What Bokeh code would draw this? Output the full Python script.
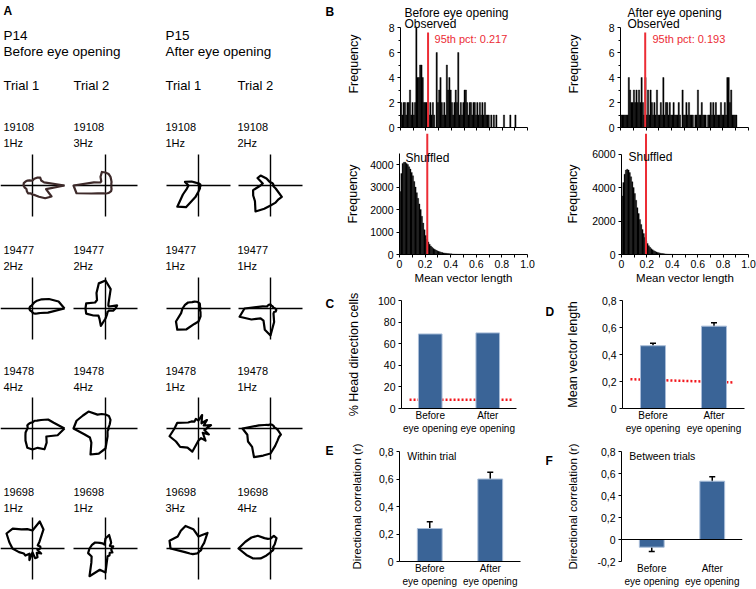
import numpy as np
from bokeh.plotting import figure
from bokeh.layouts import row, column
from bokeh.models import (Range1d, FixedTicker, CustomJSTickFormatter, Whisker,
                          ColumnDataSource, Span, TeeHead)
from bokeh.core.properties import value
from bokeh.embed import file_html
from bokeh.resources import INLINE

FONT = "Liberation Sans"
RED = "#ec2c35"
DOT_RED = "#f2161c"
BAR = "#3a6497"
BAR_EDGE = "#a9bdd8"
BROWN = "#3e2a2a"

# ---------------- data ----------------
# Panel A: polar firing-rate plots, radius (arbitrary units) every 15 deg from east, counter-clockwise
angles_deg = list(range(0, 360, 15))
polar_radii = [
    [32, 12, 10, 11, 9, 7, 5, 5, 6, 7, 8, 9, 9, 8, 7, 8, 9, 8, 9, 10, 13, 18, 22, 14],
    [6, 6, 7, 8, 10, 12, 13, 14, 10, 6, 6, 12, 32, 30, 16, 11, 9, 8, 8, 8, 8, 8, 7, 6],
    [2, 2, 2, 2, 2, 2, 2, 2, 3, 4, 8, 14, 10, 12, 18, 30, 25, 12, 6, 4, 3, 2, 2, 2],
    [3, 3, 3, 3, 3, 3, 3, 4, 8, 14, 15, 8, 10, 18, 20, 22, 30, 24, 20, 18, 16, 16, 6, 3],
    [32, 27, 19, 13, 9, 6, 4, 3, 3, 3, 3, 3, 3, 3, 3, 3, 3, 3, 4, 5, 6, 7, 9, 16],
    [10, 12, 4, 4, 6, 20, 28, 26, 18, 12, 12, 20, 20, 20, 14, 10, 12, 18, 10, 6, 4, 4, 4, 8],
    [2, 2, 2, 2, 3, 5, 6, 7, 8, 9, 12, 14, 16, 18, 26, 30, 24, 16, 13, 8, 4, 2, 2, 2],
    [5, 3, 3, 3, 3, 3, 4, 4, 4, 4, 4, 8, 26, 32, 22, 14, 14, 22, 27, 14, 6, 5, 6, 6],
    [32, 22, 18, 12, 9, 8, 6, 6, 6, 6, 6, 5, 5, 6, 8, 10, 14, 20, 21, 20, 24, 20, 16, 26],
    [3, 3, 4, 6, 10, 13, 14, 15, 16, 24, 26, 30, 32, 22, 18, 20, 30, 26, 20, 8, 4, 3, 3, 3],
    [8, 13, 6, 12, 6, 14, 8, 10, 8, 10, 12, 22, 24, 30, 26, 26, 22, 24, 12, 10, 14, 6, 12, 6],
    [6, 4, 4, 4, 4, 4, 4, 4, 4, 5, 7, 12, 28, 24, 26, 26, 33, 28, 25, 18, 14, 12, 12, 8],
    [8, 8, 6, 10, 22, 28, 18, 20, 22, 28, 30, 24, 20, 14, 10, 10, 6, 12, 4, 10, 10, 6, 10, 5],
    [6, 8, 5, 8, 10, 14, 10, 4, 6, 8, 12, 14, 16, 18, 16, 20, 32, 22, 24, 8, 8, 6, 8, 6],
    [3, 3, 4, 8, 18, 14, 12, 20, 26, 25, 24, 30, 28, 14, 10, 8, 6, 5, 4, 3, 3, 3, 3, 3],
    [3, 3, 3, 6, 12, 13, 10, 10, 12, 18, 22, 26, 32, 25, 20, 14, 8, 5, 4, 3, 3, 3, 3, 3],
]
cell_ids = ["19108", "19108", "19108", "19108",
            "19477", "19477", "19477", "19477",
            "19478", "19478", "19478", "19478",
            "19698", "19698", "19698", "19698"]
cell_freqs = ["1Hz", "3Hz", "1Hz", "2Hz",
              "2Hz", "2Hz", "1Hz", "1Hz",
              "4Hz", "4Hz", "1Hz", "1Hz",
              "1Hz", "1Hz", "3Hz", "4Hz"]
age_labels = ["P14", "P15"]
cond_labels = ["Before eye opening", "After eye opening"]
trial_labels = ["Trial 1", "Trial 2", "Trial 1", "Trial 2"]

# Panel B: histograms of mean vector length, bin width 0.01
BIN = 0.01
before_obs = [2, 1, 2, 2, 1, 2, 2, 3, 1, 2, 1, 2, 8, 4, 4, 5, 5, 4, 2, 2,
              2, 2, 1, 2, 1, 2, 1, 0, 6, 2, 3, 4, 2, 1, 2, 1, 5, 3, 4, 3,
              2, 1, 2, 3, 2, 6, 1, 2, 1, 2, 3, 3, 2, 1, 2, 2, 1, 2, 2, 1,
              2, 1, 2, 1, 2, 1, 2, 1, 1, 1, 0, 1, 0, 1, 0, 1, 0, 0, 0, 0,
              0, 1, 0, 0, 0, 0, 1, 0, 0, 0, 1]
after_obs = [1, 1, 1, 1, 1, 1, 4, 3, 2, 2, 3, 2, 3, 2, 3, 2, 4, 2, 1, 4,
             1, 3, 1, 3, 2, 1, 2, 1, 3, 1, 1, 2, 1, 4, 1, 2, 2, 1, 2, 1,
             1, 2, 1, 1, 1, 2, 1, 0, 3, 1, 1, 2, 1, 2, 1, 1, 1, 0, 1, 1,
             3, 1, 1, 2, 1, 1, 1, 0, 1, 1, 2, 1, 2, 1, 2, 1, 1, 1, 2, 1,
             1, 2, 1, 4, 4, 2, 3, 1, 1, 1, 1, 0, 0]
before_shuf = [2800, 3600, 4050, 4100, 4100, 4050, 4000, 3900, 3800, 3650,
               3500, 3250, 3000, 2750, 2500, 2250, 2000, 1700, 1400, 1100,
               850, 680, 560, 460, 380, 320, 270, 230, 195, 165,
               140, 120, 100, 85, 72, 62, 53, 45, 39, 33,
               28, 24, 20, 17, 15, 13, 11, 10, 9, 8,
               7, 6, 5, 5, 4, 4, 3, 3, 2, 2, 2]
after_shuf = [3500, 4300, 4800, 5050, 5100, 5050, 4900, 4650, 4350, 4000,
              3650, 3250, 2800, 2450, 2100, 1800, 1500, 1250, 1020, 820,
              660, 530, 430, 350, 285, 230, 190, 155, 125, 100,
              82, 67, 55, 45, 37, 30, 24, 19, 15, 12,
              10, 8, 6, 5, 4, 3, 2, 2, 1, 1, 1]
pct95 = [0.217, 0.193]
obs_titles = ["Before eye opening", "After eye opening"]

# Panels C-F
groups = ["Before\neye opening", "After\neye opening"]
hd_pct = [69, 70]
hd_chance = 8
mvl = [0.465, 0.61]
mvl_err = [0.018, 0.025]
within_r = [0.24, 0.60]
within_err = [0.05, 0.05]
between_r = [-0.07, 0.53]
between_err = [0.04, 0.04]

cat_x = [i + 0.5 for i in range(len(groups))]


# ---------------- helpers ----------------
def make_fig(w, h, mbl, mbr, mbt, mbb, xr, yr):
    p = figure(width=w, height=h, x_range=Range1d(*xr), y_range=Range1d(*yr),
               output_backend="svg", toolbar_location=None, title=None,
               min_border_left=mbl, min_border_right=mbr,
               min_border_top=mbt, min_border_bottom=mbb)
    p.grid.visible = False
    p.outline_line_color = None
    for ax in p.axis:
        ax.axis_line_color = "black"
        ax.axis_line_width = 1
        ax.major_tick_line_color = "black"
        ax.major_tick_out = 3
        ax.major_tick_in = 0
        ax.minor_tick_line_color = None
        ax.major_label_text_font = FONT
        ax.major_label_text_font_size = "10.5px"
        ax.major_label_text_color = "black"
        ax.major_label_standoff = 3
        ax.axis_label_text_font = FONT
        ax.axis_label_text_font_style = "normal"
        ax.axis_label_text_font_size = "12.5px"
        ax.axis_label_text_color = "black"
    return p


def add_text(p, x, y, txt, size, color="black", baseline="alphabetic", bold=False, align="left"):
    p.text(x=[x], y=[y], text=[txt], text_font=value(FONT), text_font_size=value(size),
           text_color=color, text_baseline=baseline, text_align=align,
           text_font_style="bold" if bold else "normal")


def centers(counts):
    return [BIN * i + BIN / 2 for i in range(len(counts))]


def letter_fig(h, letter, top):
    p = figure(width=12, height=h, x_range=Range1d(0, 12), y_range=Range1d(h, 0),
               output_backend="svg", toolbar_location=None, title=None, min_border=0)
    p.axis.visible = False
    p.grid.visible = False
    p.outline_line_color = None
    add_text(p, 0, top, letter, "12px", baseline="top", bold=True)
    return p


def cat_xaxis(p):
    xa = p.xaxis[0]
    xa.ticker = FixedTicker(ticks=cat_x)
    xa.major_label_overrides = {cat_x[0]: groups[0], cat_x[1]: groups[1]}
    xa.major_label_text_font_size = "10px"
    xa.major_tick_out = 0
    xa.major_label_standoff = 1
    return xa


def add_err(p, vals, errs):
    src = ColumnDataSource(dict(x=cat_x,
                                upper=[v + e for v, e in zip(vals, errs)],
                                lower=[v - e for v, e in zip(vals, errs)]))
    p.add_layout(Whisker(base="x", upper="upper", lower="lower", source=src,
                         line_color="black", line_width=1.5,
                         upper_head=TeeHead(size=6, line_width=1.5, line_color="black"),
                         lower_head=TeeHead(size=6, line_width=1.5, line_color="black")))


# ---------------- Panel A ----------------
pA = figure(width=343, height=589, x_range=Range1d(0, 343), y_range=Range1d(589, 0),
            output_backend="svg", toolbar_location=None, title=None, min_border=0)
pA.axis.visible = False
pA.grid.visible = False
pA.outline_line_color = None

add_text(pA, 3, 3, "A", "12px", baseline="top", bold=True)
add_text(pA, 325, 4, "B", "12px", baseline="top", bold=True)
add_text(pA, 325, 296, "C", "12px", baseline="top", bold=True)
add_text(pA, 325, 443, "E", "12px", baseline="top", bold=True)

col_x = [3, 73, 165, 237]
for k in range(2):
    add_text(pA, col_x[2 * k], 27, age_labels[k], "13.5px", baseline="top")
    add_text(pA, col_x[2 * k], 43, cond_labels[k], "13.5px", baseline="top")
for c in range(4):
    add_text(pA, col_x[c], 77, trial_labels[c], "13px", baseline="top")

center_x = [32, 105, 198, 270]
center_y = [185, 308, 428, 548]
label_y = [122, 245, 366, 487]
th = np.deg2rad(np.array(angles_deg + [angles_deg[0]], dtype=float))
for k, radii in enumerate(polar_radii):
    r_i, c_i = divmod(k, 4)
    cx, cy = center_x[c_i], center_y[r_i]
    add_text(pA, col_x[c_i], label_y[r_i], cell_ids[k], "11px", baseline="top")
    add_text(pA, col_x[c_i], label_y[r_i] + 14, cell_freqs[k], "11px", baseline="top")
    pA.segment(x0=[cx - 32, cx], y0=[cy, cy - 31], x1=[cx + 32, cx], y1=[cy, cy + 31],
               line_color="black", line_width=1.4)
    rr = np.array(radii + [radii[0]], dtype=float)
    xs = cx + rr * np.cos(th)
    ys = cy - rr * np.sin(th)
    col = BROWN if k in (0, 1) else "black"
    pA.line(xs, ys, line_color=col, line_width=2.2, line_join="round")


# ---------------- Panel B ----------------
OBS_TOP = 10.16


def obs_fig(w, mbl, mbr, counts, pct, title, tx, ptx, standoff):
    p = make_fig(w, 133, mbl, mbr, 0, 6, (0, 1), (0, OBS_TOP))
    p.vbar(x=centers(counts), width=BIN, top=counts, bottom=0,
           fill_color="black", line_color="black", line_width=0.4)
    p.line([pct, pct], [0, 7.6], line_color=RED, line_width=2)
    add_text(p, tx, 9.2, title, "12px")
    add_text(p, tx, 8.32, "Observed", "12px")
    add_text(p, ptx, 7.12, "95th pct: %.3f" % pct, "11px", color=RED)
    xa = p.xaxis[0]
    xa.ticker = FixedTicker(ticks=[], minor_ticks=[i / 10 for i in range(11)])
    xa.minor_tick_line_color = "black"
    xa.minor_tick_out = 3
    xa.minor_tick_in = 0
    xa.major_label_standoff = 0
    ya = p.yaxis[0]
    ya.ticker = FixedTicker(ticks=[0, 2, 4, 6, 8], minor_ticks=[1, 3, 5, 7])
    ya.minor_tick_line_color = "black"
    ya.minor_tick_out = 2
    ya.minor_tick_in = 0
    ya.bounds = (0, 8)
    ya.axis_label = "Frequency"
    ya.axis_label_standoff = standoff
    return p


def shuf_fig(w, mbl, mbr, mbb, yend, bound, yticks, counts, pct, tx, ty, standoff):
    p = make_fig(w, 157, mbl, mbr, 0, mbb, (0, 1), (0, yend))
    p.vbar(x=centers(counts), width=BIN, top=counts, bottom=0,
           fill_color="black", line_color="black", line_width=0.3)
    p.line([pct, pct], [0, yend], line_color=RED, line_width=2)
    add_text(p, tx, ty, "Shuffled", "12px")
    xa = p.xaxis[0]
    xa.ticker = FixedTicker(ticks=[0, 0.2, 0.4, 0.6, 0.8, 1.0],
                            minor_ticks=[0.1, 0.3, 0.5, 0.7, 0.9])
    xa.minor_tick_line_color = "black"
    xa.minor_tick_out = 3
    xa.minor_tick_in = 0
    xa.formatter = CustomJSTickFormatter(code="return tick == 0 ? '0' : tick.toFixed(1);")
    xa.major_label_standoff = 2
    xa.axis_label = "Mean vector length"
    xa.axis_label_text_font_size = "11.5px"
    xa.axis_label_standoff = 1
    ya = p.yaxis[0]
    ya.ticker = FixedTicker(ticks=yticks)
    ya.bounds = (0, bound)
    ya.axis_label = "Frequency"
    ya.axis_label_standoff = standoff
    return p


bo1 = obs_fig(202, 57, 18, before_obs, pct95[0], obs_titles[0], 0.031, 0.268, 25)
bo2 = obs_fig(211, 75, 8, after_obs, pct95[1], obs_titles[1], 0.055, 0.25, 25)
bs1 = shuf_fig(202, 56, 18, 36, 5378, 4500, [0, 1000, 2000, 3000, 4000],
               before_shuf, pct95[0], 0.047, 4311, 7)
bs2 = shuf_fig(211, 76, 8, 34, 7235, 6000, [0, 2000, 4000, 6000],
               after_shuf, pct95[1], 0.055, 5824, 9)

# ---------------- Panels C-F ----------------
COMMA = CustomJSTickFormatter(
    code="return Math.abs(tick) < 1e-9 ? '0' : tick.toFixed(1).replace('.', ',');")

# C
pc = make_fig(202, 150, 56, 29, 10, 32, (0, 2), (0, 100))
pc.line([0.14, 1.93], [hd_chance, hd_chance], line_color=DOT_RED, line_width=2.5,
        line_dash="2 2")
pc.vbar(x=cat_x, width=0.41, top=hd_pct, bottom=0, fill_color=BAR,
        line_color=BAR_EDGE, line_width=1)
cat_xaxis(pc)
ya = pc.yaxis[0]
ya.ticker = FixedTicker(ticks=[0, 20, 40, 60, 80, 100])
ya.axis_label = "% Head direction cells"
ya.axis_label_standoff = 14

# D
pd_ = make_fig(199, 150, 65, 12, 8, 32, (0, 2), (0, 0.8))
pd_.line([0.13, 1.82], pct95, line_color=DOT_RED, line_width=2.5, line_dash="2 2")
pd_.vbar(x=cat_x, width=0.41, top=mvl, bottom=0, fill_color=BAR,
         line_color=BAR_EDGE, line_width=1)
add_err(pd_, mvl, mvl_err)
cat_xaxis(pd_)
ya = pd_.yaxis[0]
ya.ticker = FixedTicker(ticks=[0, 0.2, 0.4, 0.6, 0.8])
ya.formatter = COMMA
ya.axis_label = "Mean vector length"
ya.axis_label_standoff = 19

# E
pe = make_fig(202, 149, 56, 25, 11, 28, (0, 2), (0, 0.8))
pe.vbar(x=cat_x, width=0.41, top=within_r, bottom=0, fill_color=BAR,
        line_color=BAR_EDGE, line_width=1)
add_err(pe, within_r, within_err)
cat_xaxis(pe)
ya = pe.yaxis[0]
ya.ticker = FixedTicker(ticks=[0, 0.2, 0.4, 0.6, 0.8])
ya.formatter = COMMA
ya.axis_label = "Directional correlation (r)"
ya.axis_label_text_font_size = "11.5px"
ya.axis_label_standoff = 13
add_text(pe, 0.13, 0.764, "Within trial", "10.5px", baseline="middle")

# F
pf = make_fig(199, 149, 64, 14, 11, 27, (0, 2), (-0.2, 0.8))
pf.add_layout(Span(location=0, dimension="width", line_color="black", line_width=1))
pf.vbar(x=cat_x, width=0.41, top=between_r, bottom=0, fill_color=BAR,
        line_color=BAR_EDGE, line_width=1)
add_err(pf, between_r, between_err)
xa = cat_xaxis(pf)
xa.axis_line_color = None
ya = pf.yaxis[0]
ya.ticker = FixedTicker(ticks=[-0.2, 0, 0.2, 0.4, 0.6, 0.8])
ya.formatter = COMMA
ya.axis_label = "Directional correlation (r)"
ya.axis_label_text_font_size = "11.5px"
ya.axis_label_standoff = 15
add_text(pf, 0.13, 0.755, "Between trials", "10.5px", baseline="middle")

letD = letter_fig(150, "D", 6)
letF = letter_fig(149, "F", 4)

right = column(row(bo1, bo2), row(bs1, bs2), row(pc, letD, pd_), row(pe, letF, pf))
layout = row(pA, right)

open("out.html", "w").write(file_html(layout, INLINE))
